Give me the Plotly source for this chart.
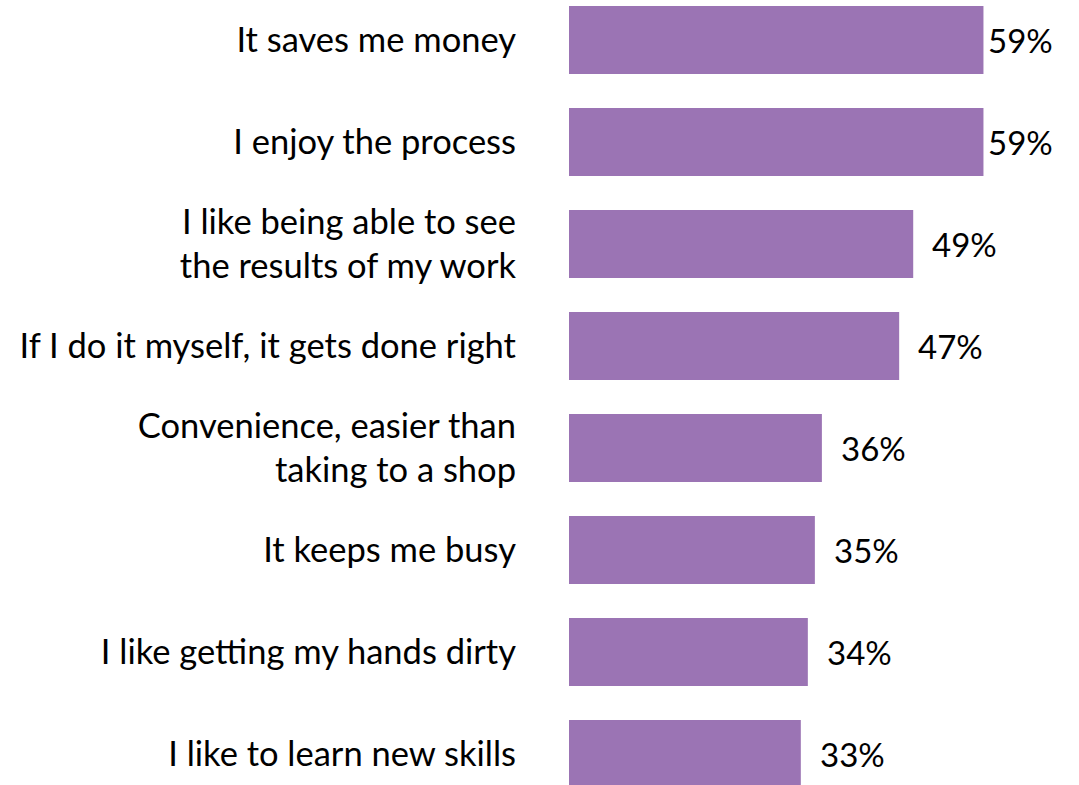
import plotly.graph_objects as go

# Reasons for doing it yourself (% of respondents)
reasons = [
    "It saves me money",
    "I enjoy the process",
    "I like being able to see<br>the results of my work",
    "If I do it myself, it gets done right",
    "Convenience, easier than<br>taking to a shop",
    "It keeps me busy",
    "I like getting my hands dirty",
    "I like to learn new skills",
]
shares = [59, 59, 49, 47, 36, 35, 34, 33]

BAR_COLOR = "#9B74B4"
FONT = "Lato"
X_MAX = 72.6

fig = go.Figure(
    go.Bar(
        x=shares,
        y=list(range(len(reasons))),
        orientation="h",
        marker=dict(color=BAR_COLOR, line=dict(width=0)),
        hoverinfo="skip",
    )
)

# value labels just past each bar end, kept inside the canvas
for i, v in enumerate(shares):
    fig.add_annotation(
        x=min(v + 2.4, 59.4),
        y=i,
        text=f"{v}%",
        showarrow=False,
        xanchor="left",
        yanchor="middle",
        font=dict(family=FONT, size=33, color="#000000"),
    )

fig.update_layout(
    width=1079,
    height=785,
    margin=dict(l=569, r=0, t=0, b=0),
    paper_bgcolor="white",
    plot_bgcolor="white",
    bargap=0.333,
    showlegend=False,
    font=dict(family=FONT, size=34, color="#000000"),
    xaxis=dict(range=[0, X_MAX], visible=False, fixedrange=True),
    yaxis=dict(
        tickmode="array",
        tickvals=list(range(len(reasons))),
        ticktext=reasons,
        range=[7.304, -0.392],
        showgrid=False,
        zeroline=False,
        showline=False,
        ticks="",
        ticklabelstandoff=52,
        tickfont=dict(family=FONT, size=34.5, color="#000000"),
        fixedrange=True,
    ),
)

fig.write_html("out.html")
